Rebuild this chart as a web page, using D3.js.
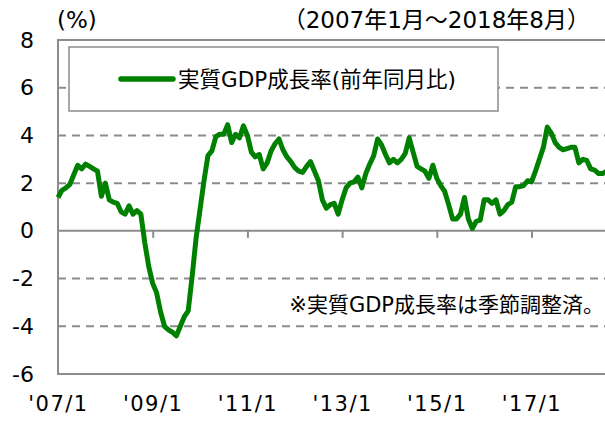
<!DOCTYPE html>
<html>
<head>
<meta charset="utf-8">
<script src="https://cdn.jsdelivr.net/npm/d3@7"></script>
<style>
  body { margin: 0; background: #fff; }
  text { font-family: "DejaVu Sans", "Noto Sans CJK JP", sans-serif; fill: #000; }
</style>
</head>
<body>
<script>
// Data: 実質GDP成長率(前年同月比), 2007/1 - 2018/8, monthly
var gdpGrowth = [
  1.4, 1.7, 1.8, 1.95, 2.35, 2.75, 2.6, 2.8, 2.7, 2.6, 2.5, 1.45,
  2.0, 1.3, 1.2, 1.15, 0.8, 0.7, 1.05, 0.7, 0.85, 0.7, -0.5, -1.5,
  -2.2, -2.6, -3.4, -4.0, -4.15, -4.25, -4.4, -4.0, -3.6, -3.35, -1.9, -0.3,
  0.9, 2.1, 3.15, 3.35, 3.95, 4.05, 4.05, 4.45, 3.7, 4.05, 3.9, 4.4,
  4.0, 3.3, 3.1, 3.2, 2.6, 2.85, 3.35, 3.65, 3.85, 3.4, 3.1, 2.9,
  2.65, 2.5, 2.45, 2.7, 2.9, 2.5, 2.1, 1.3, 0.95, 1.1, 1.15, 0.7,
  1.3, 1.8, 2.0, 2.05, 2.25, 1.8, 2.4, 2.8, 3.15, 3.85, 3.6, 3.2,
  2.85, 3.0, 2.85, 3.0, 3.25, 3.9, 3.3, 2.7, 2.6, 2.5, 2.2, 2.75,
  2.2, 1.9, 1.65, 1.1, 0.5, 0.5, 0.7, 1.4, 0.5, 0.1, 0.4, 0.45,
  1.3, 1.3, 1.15, 1.3, 0.7, 0.85, 1.1, 1.2, 1.85, 1.85, 1.9, 2.1,
  2.05, 2.5, 3.0, 3.5, 4.35, 4.1, 3.7, 3.5, 3.4, 3.45, 3.5, 3.5,
  2.85, 3.0, 2.95, 2.6, 2.55, 2.4, 2.4, 2.5
];
var xTickIndex = [0, 24, 48, 72, 96, 120];
var xTickLabels = ["'07/1", "'09/1", "'11/1", "'13/1", "'15/1", "'17/1"];
var yTicks = [8, 6, 4, 2, 0, -2, -4, -6];
var seriesName = "実質GDP成長率(前年同月比)";

var width = 605, height = 421;
var plotLeft = 58, plotTop = 40, plotBottom = 374;
var monthW = 3.946;

var x = d3.scaleLinear().domain([0, 139]).range([plotLeft, plotLeft + 139 * monthW]);
var y = d3.scaleLinear().domain([-6, 8]).range([plotBottom, plotTop]);

var svg = d3.select("body").append("svg").attr("width", width).attr("height", height);

// gridlines (dashed)
svg.selectAll(".grid")
  .data(yTicks.filter(function(d) { return d !== 0 && d !== 8 && d !== -6; }))
  .enter().append("line")
  .attr("class", "grid")
  .attr("x1", plotLeft).attr("x2", width + 10)
  .attr("y1", function(d) { return y(d); })
  .attr("y2", function(d) { return y(d); })
  .attr("stroke", "#8c8c8c").attr("stroke-width", 2)
  .attr("stroke-dasharray", "8,6");

// plot frame
svg.append("rect")
  .attr("x", plotLeft).attr("y", y(8))
  .attr("width", width + 20).attr("height", y(-6) - y(8))
  .attr("fill", "none").attr("stroke", "#8c8c8c").attr("stroke-width", 2);

// zero axis with ticks
var xAxis = d3.axisBottom(x).tickValues(xTickIndex.slice(1)).tickSize(7).tickFormat("");
var gx = svg.append("g").attr("transform", "translate(0," + y(0) + ")").call(xAxis);
gx.select(".domain").remove();
gx.append("line").attr("x1", plotLeft).attr("x2", width + 10)
  .attr("stroke", "#8c8c8c").attr("stroke-width", 2);
gx.selectAll(".tick line").attr("stroke", "#8c8c8c").attr("stroke-width", 2);

// x labels
var xLab = d3.axisBottom(x).tickValues(xTickIndex).tickSize(0)
  .tickFormat(function(d, i) { return xTickLabels[i]; });
var gxl = svg.append("g").attr("transform", "translate(0,396)").call(xLab);
gxl.select(".domain").remove();
gxl.selectAll("text").attr("font-size", 21).attr("font-family", null)
  .attr("dy", "0.71em").attr("y", 0).attr("letter-spacing", 1.5);

// y labels (plain hyphen minus as in the original)
var yAxis = d3.axisLeft(y).tickValues(yTicks).tickSize(0)
  .tickFormat(function(d) { return String(d); });
var gy = svg.append("g").attr("transform", "translate(34,0)").call(yAxis);
gy.select(".domain").remove();
gy.selectAll("text").attr("font-size", 22).attr("font-family", null).attr("x", 0);

// line
var line = d3.line()
  .x(function(d, i) { return x(i); })
  .y(function(d) { return y(d); });
svg.append("path").datum(gdpGrowth)
  .attr("d", line)
  .attr("fill", "none").attr("stroke", "#008000").attr("stroke-width", 5)
  .attr("stroke-linejoin", "round");

// legend
svg.append("rect").attr("x", 69).attr("y", 47).attr("width", 429).attr("height", 64)
  .attr("fill", "#fff").attr("stroke", "#8c8c8c").attr("stroke-width", 1.5);
svg.append("line").attr("x1", 121).attr("x2", 173).attr("y1", 79).attr("y2", 79)
  .attr("stroke", "#008000").attr("stroke-width", 5.5).attr("stroke-linecap", "round");
svg.append("text").attr("x", 178).attr("y", 79).attr("dy", "0.35em")
  .attr("font-size", 21.5).text(seriesName);

// titles
svg.append("text").attr("x", 57).attr("y", 20).attr("dy", "0.35em")
  .attr("font-size", 23).text("(%)");
svg.append("text").attr("x", 590).attr("y", 20).attr("dy", "0.35em")
  .attr("text-anchor", "end").attr("font-size", 23).text("（2007年1月～2018年8月）");
svg.append("text").attr("x", 604).attr("y", 305).attr("dy", "0.35em")
  .attr("text-anchor", "end").attr("font-size", 21).text("※実質GDP成長率は季節調整済。");
</script>
</body>
</html>
